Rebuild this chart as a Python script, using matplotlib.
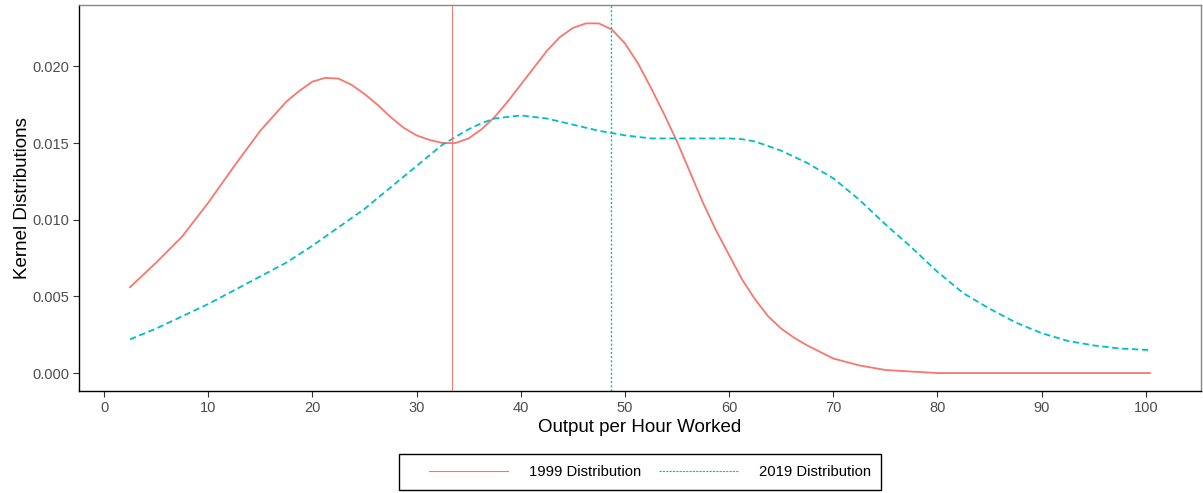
import matplotlib
matplotlib.use("Agg")
import matplotlib.pyplot as plt
from matplotlib.patches import Rectangle

plt.rcParams['font.family'] = ['Liberation Sans', 'DejaVu Sans']

x_1999 = [2.5, 5, 7.5, 10, 12.5, 15, 17.5, 18.75, 20, 21.25, 22.5, 23.75, 25, 26.25, 27.5, 28.75,
          30, 31.25, 32.5, 33.75, 35, 36.25, 37.5, 38.75, 40, 41.25, 42.5, 43.75, 45, 46.25,
          47.5, 48.75, 50, 51.25, 52.5, 53.75, 55, 56.25, 57.5, 58.75, 60, 61.25, 62.5, 63.75,
          65, 66.25, 67.5, 70, 72.5, 75, 77.5, 80, 85, 90, 95, 100.4]
y_1999 = [0.0056, 0.0072, 0.0089, 0.0111, 0.0135, 0.0158, 0.0177, 0.0184, 0.0190, 0.01925, 0.0192,
          0.0188, 0.0182, 0.0175, 0.0167, 0.0160, 0.0155, 0.0152, 0.0150, 0.0150, 0.0153, 0.0159,
          0.0167, 0.0177, 0.0188, 0.0199, 0.0210, 0.0219, 0.0225, 0.0228, 0.0228, 0.0224, 0.0215,
          0.0202, 0.0186, 0.0169, 0.0151, 0.0131, 0.0111, 0.0093, 0.0077, 0.0061, 0.0048, 0.0037,
          0.0029, 0.0023, 0.0018, 0.00095, 0.0005, 0.0002, 0.0001, 0.0000, 0.0, 0.0, 0.0, 0.0]

x_2019 = [2.5, 5, 7.5, 10, 12.5, 15, 17.5, 20, 22.5, 25, 27.5, 30, 32.5, 35, 36.25, 37.5, 38.75,
          40, 41.25, 42.5, 43.75, 45, 47.5, 50, 52.5, 55, 57.5, 60, 61.25, 62.5, 63.75, 65, 67.5,
          70, 72.5, 75, 77.5, 80, 82.5, 85, 87.5, 90, 92.5, 95, 97.5, 100.4]
y_2019 = [0.0022, 0.0029, 0.0037, 0.0045, 0.0054, 0.0063, 0.0072, 0.0083, 0.0095, 0.0107, 0.0121,
          0.0135, 0.0149, 0.0159, 0.0163, 0.0166, 0.0167, 0.0168, 0.0167, 0.0166, 0.0164, 0.0162,
          0.0158, 0.0155, 0.0153, 0.0153, 0.0153, 0.0153, 0.01525, 0.0151, 0.0148, 0.0145, 0.0137,
          0.0127, 0.0113, 0.0097, 0.0082, 0.0066, 0.0052, 0.0042, 0.0033, 0.0026, 0.0021, 0.0018,
          0.0016, 0.0015]

mean_1999 = 33.4
mean_2019 = 48.7

xticks = [0, 10, 20, 30, 40, 50, 60, 70, 80, 90, 100]
yticks = [0.000, 0.005, 0.010, 0.015, 0.020]

red = '#F8766D'
cyan = '#00BFC4'

W, H = 1203, 493
fig = plt.figure(figsize=(W / 100, H / 100), dpi=100)
ax = fig.add_axes([79 / W, 1 - 391 / H, (1201 - 79) / W, (391 - 5) / H])

ax.plot(x_1999, y_1999, color=red, lw=1.3, label='1999 Distribution')
ax.plot(x_2019, y_2019, color=cyan, lw=1.3, ls=(0, (3.5, 2)), label='2019 Distribution')
ax.axvline(mean_1999, color=red, lw=0.7)
ax.axvline(mean_2019, color=cyan, lw=1.0, ls=(0, (1.5, 1.5)))

ax.set_xlim(-2.4, 105.3)
ax.set_ylim(-0.00117, 0.0240)
ax.set_xticks(xticks)
ax.set_yticks(yticks)
ax.set_yticklabels([f'{v:.3f}' for v in yticks])
ax.tick_params(axis='both', direction='out', length=4, width=0.8, color='#333333',
               labelsize=10.5, labelcolor='#4d4d4d', pad=3)

for s in ['left', 'bottom']:
    ax.spines[s].set_color('black')
    ax.spines[s].set_linewidth(1.0)
for s in ['top', 'right']:
    ax.spines[s].set_color('#888888')
    ax.spines[s].set_linewidth(1.0)

ax.set_xlabel('Output per Hour Worked', fontsize=13.5, labelpad=3)
ax.set_ylabel('Kernel Distributions', fontsize=13.5, labelpad=1)

# legend frame
fig.patches.append(Rectangle((399 / W, 1 - 490 / H), (881 - 399) / W, (490 - 454) / H,
                             transform=fig.transFigure, fill=False, edgecolor='black',
                             linewidth=1.0))
leg = fig.legend(loc='center', bbox_to_anchor=(650 / W, 1 - 472 / H), ncol=2,
                 fontsize=10.75, handlelength=5.3, handletextpad=1.4, columnspacing=1.2,
                 frameon=False, borderpad=0.0)
leg.legend_handles[1].set_linestyle((0, (2, 1)))
leg.legend_handles[1].set_linewidth(0.8)
leg.legend_handles[0].set_linewidth(0.8)

fig.savefig('out.png', dpi=100)
